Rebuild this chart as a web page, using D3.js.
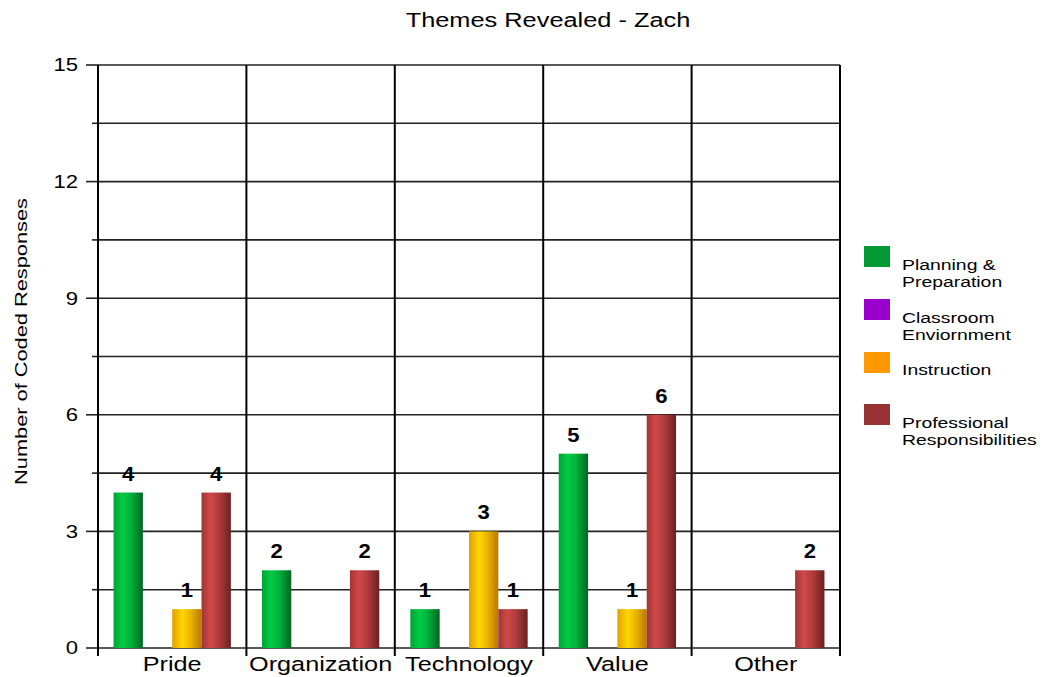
<!DOCTYPE html>
<html>
<head>
<meta charset="utf-8">
<script src="https://cdn.jsdelivr.net/npm/d3@7"></script>
<style>
  html, body { margin: 0; padding: 0; background: #fff; }
  text { font-family: "Liberation Sans", Arial, sans-serif; fill: #000; }
</style>
</head>
<body>
<svg id="chart" width="1042" height="677"></svg>
<script>
const title = "Themes Revealed - Zach";
const yAxisTitle = "Number of Coded Responses";
const categories = ["Pride", "Organization", "Technology", "Value", "Other"];
const seriesNames = ["Planning & Preparation", "Classroom Enviornment", "Instruction", "Professional Responsibilities"];
const legendLines = [["Planning &", "Preparation"], ["Classroom", "Enviornment"], ["Instruction"], ["Professional", "Responsibilities"]];
const planning = [4, 2, 1, 5, 0];
const classroom = [0, 0, 0, 0, 0];
const instruction = [1, 0, 3, 1, 0];
const professional = [4, 2, 1, 6, 2];
const yTicks = [0, 3, 6, 9, 12, 15];
const yGridValues = [0, 1.5, 3, 4.5, 6, 7.5, 9, 10.5, 12, 13.5, 15];

const seriesValues = [planning, classroom, instruction, professional];
const seriesColors = ["#009933", "#9900cc", "#ff9900", "#993333"];
const gradStops = [
  [["0%", "#00a336"], ["30%", "#00cc44"], ["60%", "#00b03a"], ["100%", "#006622"]],
  [["0%", "#8800bb"], ["30%", "#aa22dd"], ["100%", "#660099"]],
  [["0%", "#e0a000"], ["35%", "#ffd700"], ["65%", "#e8b000"], ["100%", "#b87800"]],
  [["0%", "#a03535"], ["30%", "#d24848"], ["60%", "#b03c3c"], ["100%", "#6a2020"]]
];

const svg = d3.select("#chart");
const pLeft = 98, pRight = 840, pTop = 65, pBottom = 648;

function stretch(sel, f) {
  sel.each(function () {
    const w = this.getComputedTextLength();
    d3.select(this).attr("textLength", w * f).attr("lengthAdjust", "spacingAndGlyphs");
  });
}

const defs = svg.append("defs");
gradStops.forEach((stops, i) => {
  const g = defs.append("linearGradient").attr("id", "grad" + i)
    .attr("x1", "0%").attr("x2", "100%").attr("y1", "0%").attr("y2", "0%");
  stops.forEach(s => g.append("stop").attr("offset", s[0]).attr("stop-color", s[1]));
});

const x0 = d3.scaleBand().domain(categories).range([pLeft, pRight]).padding(0);
const x1 = d3.scaleBand().domain(d3.range(seriesNames.length)).range([0, x0.bandwidth()])
  .paddingInner(0).paddingOuter(0.53);
const y = d3.scaleLinear().domain([0, 15]).range([pBottom, pTop]);

// Horizontal grid lines
svg.append("g").selectAll("line").data(yGridValues).join("line")
  .attr("x1", pLeft).attr("x2", pRight)
  .attr("y1", d => y(d)).attr("y2", d => y(d))
  .attr("stroke", "#222").attr("stroke-width", 1.6);

// Minor / major ticks on left
svg.append("g").selectAll("line").data(yGridValues).join("line")
  .attr("x1", d => yTicks.includes(d) ? pLeft - 12 : pLeft - 6).attr("x2", pLeft)
  .attr("y1", d => y(d)).attr("y2", d => y(d))
  .attr("stroke", "#222").attr("stroke-width", 1.6);

// Vertical separators
const seps = categories.map(c => x0(c)).concat([pRight]);
svg.append("g").selectAll("line").data(seps).join("line")
  .attr("x1", d => d).attr("x2", d => d)
  .attr("y1", pTop).attr("y2", pBottom + 8)
  .attr("stroke", "#000").attr("stroke-width", 2);

// Y tick labels
const yl = svg.append("g").selectAll("text").data(yTicks).join("text")
  .attr("x", 78).attr("y", d => y(d)).attr("dy", "0.36em")
  .attr("text-anchor", "end").attr("font-size", 17.5)
  .text(d => d);
stretch(yl, 1.26);

// Bars
const groups = svg.append("g").selectAll("g").data(categories).join("g")
  .attr("transform", c => `translate(${x0(c)},0)`);
seriesValues.forEach((vals, si) => {
  groups.filter((c, ci) => vals[ci] > 0).append("rect")
    .attr("x", x1(si)).attr("width", x1.bandwidth())
    .attr("y", (c) => y(vals[categories.indexOf(c)]))
    .attr("height", (c) => pBottom - y(vals[categories.indexOf(c)]))
    .attr("fill", `url(#grad${si})`);
});
// Value labels
seriesValues.forEach((vals, si) => {
  const lab = groups.filter((c, ci) => vals[ci] > 0).append("text")
    .attr("x", x1(si) + x1.bandwidth() / 2)
    .attr("y", (c) => y(vals[categories.indexOf(c)]) - 12)
    .attr("text-anchor", "middle").attr("font-size", 21).attr("font-weight", "bold")
    .text(c => vals[categories.indexOf(c)]);
  stretch(lab, 1.05);
});

// Category labels
const cl = svg.append("g").selectAll("text").data(categories).join("text")
  .attr("x", c => x0(c) + x0.bandwidth() / 2).attr("y", 670.5)
  .attr("text-anchor", "middle").attr("font-size", 19.3)
  .text(c => c);
stretch(cl, 1.31);

// Title
const tt = svg.append("text").attr("x", 548).attr("y", 27).attr("text-anchor", "middle")
  .attr("font-size", 19.5).text(title);
stretch(tt, 1.3);

// Y axis title
const yt = svg.append("text").attr("transform", "translate(27,341.5) rotate(-90)")
  .attr("text-anchor", "middle").attr("font-size", 16.5).text(yAxisTitle);
stretch(yt, 1.32);

// Legend
const legTops = [246, 299, 352, 404];
const leg = svg.append("g").selectAll("g").data(seriesNames).join("g")
  .attr("transform", (d, i) => `translate(864,${legTops[i]})`);
leg.append("rect").attr("width", 26).attr("height", 21)
  .attr("fill", (d, i) => seriesColors[i]);
leg.each(function (d, i) {
  const lines = legendLines[i];
  const g = d3.select(this);
  const t = g.selectAll("text").data(lines).join("text")
    .attr("x", 38)
    .attr("y", (l, j) => (lines.length === 1 ? 23 : 24) + j * 17)
    .attr("font-size", 15.5).text(l => l);
  stretch(t, 1.25);
});
</script>
</body>
</html>
